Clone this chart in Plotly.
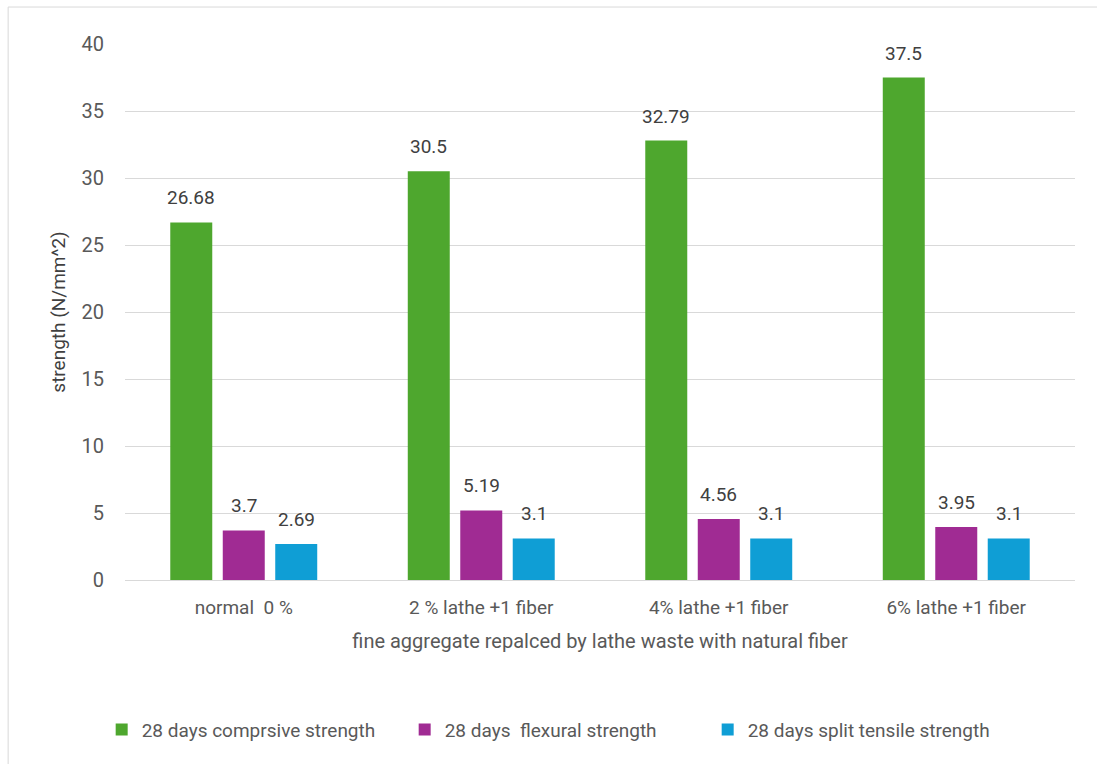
import plotly.graph_objects as go

categories = ["normal  0 %", "2 % lathe +1 fiber", "4% lathe +1 fiber", "6% lathe +1 fiber"]
compressive = [26.68, 30.5, 32.79, 37.5]
flexural = [3.7, 5.19, 4.56, 3.95]
split_tensile = [2.69, 3.1, 3.1, 3.1]

series_names = ["28 days comprsive strength", "28 days  flexural strength", "28 days split tensile strength"]
series_values = [compressive, flexural, split_tensile]
series_colors = ["#4EA72E", "#A02B93", "#0F9ED5"]

FONT = "Roboto"
GREY = "#595959"
LABEL = "#404040"

# horizontal pixel offset of each series' bar within its category group
BAR_PITCH = 52.5

fig = go.Figure()
annotations = []
for i, (name, vals, color) in enumerate(zip(series_names, series_values, series_colors)):
    fig.add_trace(go.Bar(
        x=categories, y=vals, name=name,
        marker=dict(color=color, line=dict(width=0)),
    ))
    for cat, v in zip(categories, vals):
        annotations.append(dict(
            x=cat, y=v, xref="x", yref="y", text=f"{v:g}", showarrow=False,
            xanchor="center", yanchor="bottom", xshift=(i - 1) * BAR_PITCH, yshift=11,
            font=dict(family=FONT, size=19, color=LABEL),
        ))

fig.update_layout(
    width=1097, height=764,
    margin=dict(l=125, r=22, t=44, b=184),
    paper_bgcolor="white", plot_bgcolor="white",
    barmode="group", bargap=0.337, bargroupgap=0.2,
    font=dict(family=FONT, color=GREY, size=19),
    showlegend=True,
    legend=dict(orientation="h", xref="container", yref="container",
                x=0.507, xanchor="center", y=0.045, yanchor="middle",
                font=dict(family=FONT, size=19, color=GREY), itemwidth=30,
                entrywidth=258, entrywidthmode="pixels",
                traceorder="normal"),
    xaxis=dict(
        automargin=False,
        showgrid=False, showline=True, linecolor="#D9D9D9", linewidth=1,
        ticks="", ticklabelstandoff=10, tickfont=dict(size=19, color=GREY),
        title=dict(text="fine aggregate repalced by lathe waste with natural fiber",
                   font=dict(size=20, color=GREY), standoff=16),
    ),
    yaxis=dict(
        automargin=False,
        range=[0, 40], dtick=5, showgrid=True, gridcolor="#D9D9D9", gridwidth=1,
        zeroline=False, showline=False, ticks="", ticklabelstandoff=20,
        tickfont=dict(size=20, color=GREY),
        title=dict(text="strength (N/mm^2)", font=dict(size=19, color=LABEL), standoff=10),
    ),
    annotations=annotations,
    shapes=[dict(type="rect", xref="paper", yref="paper",
                 x0=-0.123, x1=1.05, y0=-0.45, y1=1.069,
                 line=dict(color="#D9D9D9", width=1), layer="below")],
)

fig.write_html("out.html")
